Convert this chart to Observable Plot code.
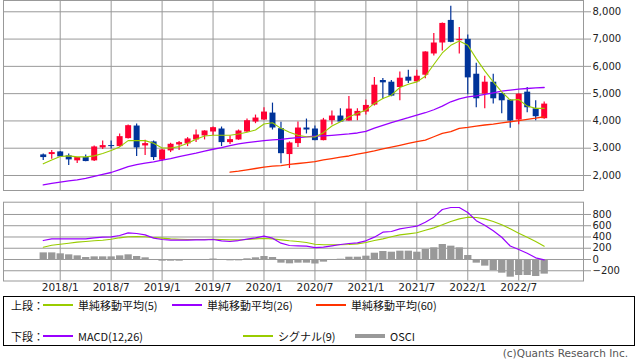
<!DOCTYPE html>
<html>
<head>
<meta charset="utf-8">
<script src="https://cdn.jsdelivr.net/npm/d3@7"></script>
<script src="https://cdn.jsdelivr.net/npm/@observablehq/plot@0.6"></script>
<style>
  body { margin: 0; background: #fff; }
  #wrap { position: relative; width: 638px; height: 362px; overflow: hidden; background: #fff; font-family: "DejaVu Sans", sans-serif; }
  #upper, #lower { position: absolute; left: 0; }
  #upper { top: 0; }
  #lower { top: 191px; }
  #legend { position: absolute; left: 3px; top: 296px; width: 632px; height: 50px; box-sizing: border-box; border: 1px solid #000; }
  .lg { position: absolute; font-family: "Noto Sans CJK JP", sans-serif; font-size: 11px; line-height: 14px; color: #111; white-space: nowrap; }
  .sw { position: absolute; }
  #footer { position: absolute; right: 10px; top: 347px; font-family: "DejaVu Sans", sans-serif; font-size: 10.5px; color: #555; white-space: nowrap; }
  g[aria-label="y-axis tick label"], g[aria-label="x-axis tick label"] { fill: #222; }
</style>
</head>
<body>
<div id="wrap">
  <div id="upper"></div>
  <div id="lower"></div>
  <div id="legend"></div>
  <div id="footer"></div>
</div>
<script>
// ---------- data ----------
const months = [
  "2017/11","2017/12",
  "2018/1","2018/2","2018/3","2018/4","2018/5","2018/6","2018/7","2018/8","2018/9","2018/10","2018/11","2018/12",
  "2019/1","2019/2","2019/3","2019/4","2019/5","2019/6","2019/7","2019/8","2019/9","2019/10","2019/11","2019/12",
  "2020/1","2020/2","2020/3","2020/4","2020/5","2020/6","2020/7","2020/8","2020/9","2020/10","2020/11","2020/12",
  "2021/1","2021/2","2021/3","2021/4","2021/5","2021/6","2021/7","2021/8","2021/9","2021/10","2021/11","2021/12",
  "2022/1","2022/2","2022/3","2022/4","2022/5","2022/6","2022/7","2022/8","2022/9","2022/10"
];
const open = [2755,2767,2864,2718,2536,2657,2536,3010,3096,3059,3351,3813,3083,3230,
  2560,2901,3120,3157,3303,3449,3594,3704,3205,3303,3594,3960,
  4033,4288,3715,2767,3169,3740,3704,3278,4008,4179,3996,4179,
  4325,4580,5481,5420,5225,5603,5432,5676,6454,6856,7684,6941,
  6990,5712,4982,5420,5006,4763,4033,5055,4446,4081];
const high = [2791,2913,2880,2791,2660,2755,3083,3266,3266,3522,3850,3887,3290,3266,
  2962,3181,3242,3388,3668,3640,3777,3777,3449,3668,4069,4215,
  4483,4653,3955,3230,3960,4069,3813,4094,4361,4446,4897,4446,
  4763,5590,5554,5481,5797,5858,5858,6540,7209,7590,8207,7428,
  7148,6114,5639,5712,5015,4775,4995,5225,4738,4690];
const low = [2548,2597,2670,2365,2438,2505,2511,2949,2974,3035,3339,2694,2730,2548,
  2511,2840,2913,3059,3205,3303,3449,3059,3132,3290,3580,3899,
  4020,3667,2426,2256,3023,3522,3270,3270,3850,3950,3990,4008,
  4215,4544,4787,4885,4738,5371,5396,5542,6381,6564,6870,6454,
  4957,4483,4446,4617,4264,3728,3862,4300,4008,4057];
const close = [2657,2840,2682,2572,2657,2511,3047,3096,3059,3424,3826,3010,3169,2657,
  2937,3144,3205,3339,3485,3631,3753,3205,3315,3631,4008,4106,
  4325,3740,2800,3193,3740,3667,3278,4033,4179,3960,4434,4349,
  4568,5310,5396,4909,5566,5457,5639,6527,6856,7574,6880,6990,
  5578,4811,5420,4811,4738,3996,4982,4483,4154,4617];

const sma5 = [2426,2572,2694,2718,2682,2682,2718,2803,2913,3047,3278,3278,3278,3181,
  3010,3010,3059,3181,3327,3449,3473,3473,3473,3522,3582,3667,
  3887,3935,3728,3582,3473,3420,3410,3570,3814,3972,4154,4276,
  4398,4641,4824,4945,5225,5347,5432,5639,6070,6491,6771,6929,
  6771,6284,5834,5432,5067,4763,4787,4544,4459,4459];
const sma26 = [1659,1708,1757,1806,1842,1891,1964,2037,2110,2219,2329,2402,2451,2499,
  2560,2621,2694,2755,2816,2889,2962,3023,3096,3157,3205,3242,
  3278,3303,3327,3364,3388,3412,3440,3455,3473,3497,3522,3558,
  3619,3740,3838,3935,4033,4118,4215,4300,4410,4544,4702,4812,
  4885,4921,4970,5030,5091,5128,5164,5188,5213,5225];
const sma60 = [null,null,null,null,null,null,null,null,null,null,null,null,null,null,
  null,null,null,null,null,null,null,null,2122,2158,2207,2256,
  2305,2341,2365,2410,2440,2475,2505,2570,2620,2670,2715,2780,
  2840,2900,2974,3040,3108,3175,3240,3300,3420,3547,3610,3730,
  3760,3813,3850,3886,3930,3970,4010,4058,4100,4153];

const macd = [337,367,367,367,367,367,385,397,403,426,473,462,438,379,
  355,343,343,343,349,349,355,332,320,337,361,385,
  414,379,290,249,243,237,210,219,243,266,284,296,
  332,397,486,497,545,568,592,663,752,888,924,924,
  835,690,610,510,395,240,178,112,30,-8];
const signal = [219,254,272,290,308,320,332,343,361,385,403,408,403,391,
  379,367,361,355,355,355,360,355,349,349,355,367,
  373,367,349,332,320,302,272,261,261,261,266,278,
  302,337,367,403,438,456,474,521,562,616,675,722,
  752,746,722,675,616,545,468,397,320,237];
const osci = [118,118,101,83,65,36,47,47,47,65,83,53,30,-18,
  -30,-30,-30,-18,0,0,8,-12,-24,-24,12,30,
  53,36,-65,-77,-65,-65,-80,-47,-12,5,41,41,
  59,112,142,130,148,148,130,178,207,266,237,207,
  71,-65,-118,-195,-243,-314,-284,-284,-302,-260];

const xTickLabels = ["2018/1","2018/7","2019/1","2019/7","2020/1","2020/7","2021/1","2021/7","2022/1","2022/7"];
const upperTicks = [2000,3000,4000,5000,6000,7000,8000];
const lowerTicks = [-200,0,200,400,600,800];

const upperLegend = [
  {label: "単純移動平均(5)", color: "#99cc00"},
  {label: "単純移動平均(26)", color: "#9900ff"},
  {label: "単純移動平均(60)", color: "#ff3300"}
];
const lowerLegend = [
  {label: "MACD(12,26)", color: "#9900ff"},
  {label: "シグナル(9)", color: "#99cc00"},
  {label: "OSCI", color: "#999999"}
];

// ---------- build ----------
const UP = "#ff0033", DOWN = "#003399", GRID = "#999999";
const idx = months.map((m, i) => i);
const candles = idx.map(i => ({i, o: open[i], h: high[i], l: low[i], c: close[i], col: close[i] >= open[i] ? UP : DOWN}));
const tickIdx = xTickLabels.map(l => months.indexOf(l));
const xDomain = [-4.68, 63.63];

const upper = Plot.plot({
  width: 638, height: 191,
  marginTop: 0, marginBottom: 1, marginLeft: 3, marginRight: 55,
  x: {type: "linear", domain: xDomain, axis: null},
  y: {domain: [1450, 8414], axis: null},
  style: {background: "transparent", overflow: "visible"},
  marks: [
    Plot.ruleX(tickIdx, {stroke: GRID}),
    Plot.ruleY(upperTicks, {stroke: GRID}),
    Plot.axisY(upperTicks, {anchor: "right", tickSize: 7, tickPadding: 2, stroke: GRID, tickFormat: d3.format(","), fontSize: 10, fontFamily: "DejaVu Sans"}),
    Plot.frame({stroke: GRID}),
    Plot.ruleX(candles, {x: "i", y1: "l", y2: "h", stroke: "col", strokeWidth: 1.2}),
    Plot.ruleX(candles, {x: "i", y1: "o", y2: "c", stroke: "col", strokeWidth: 6}),
    Plot.line(idx, {x: i => i, y: i => sma60[i], stroke: "#ff3300", strokeWidth: 1.3}),
    Plot.line(idx, {x: i => i, y: i => sma26[i], stroke: "#9900ff", strokeWidth: 1.3}),
    Plot.line(idx, {x: i => i, y: i => sma5[i], stroke: "#99cc00", strokeWidth: 1.1})
  ]
});
document.getElementById("upper").append(upper);

const lower = Plot.plot({
  width: 638, height: 105,
  marginTop: 10.7, marginBottom: 15.5, marginLeft: 3, marginRight: 55,
  x: {type: "linear", domain: xDomain, axis: null},
  y: {domain: [-382, 1018], axis: null},
  style: {background: "transparent", overflow: "visible"},
  marks: [
    Plot.ruleX(tickIdx, {stroke: GRID}),
    Plot.ruleY(lowerTicks, {stroke: GRID}),
    Plot.axisY(lowerTicks, {anchor: "right", tickSize: 7, tickPadding: 2, stroke: GRID, fontSize: 10, fontFamily: "DejaVu Sans"}),
    Plot.axisX(tickIdx, {anchor: "bottom", tickSize: 0, tickPadding: 3, tickFormat: i => months[i], fontSize: 10.5, fontFamily: "DejaVu Sans"}),
    Plot.frame({stroke: GRID}),
    Plot.ruleX(idx, {x: i => i, y1: 0, y2: i => osci[i], stroke: "#999999", strokeWidth: 7.3}),
    Plot.line(idx, {x: i => i, y: i => signal[i], stroke: "#99cc00", strokeWidth: 1.1}),
    Plot.line(idx, {x: i => i, y: i => macd[i], stroke: "#9900ff", strokeWidth: 1.2})
  ]
});
document.getElementById("lower").append(lower);

// ---------- legend ----------
const wrap = document.getElementById("wrap");
function addText(txt, x, cy) {
  const d = document.createElement("div");
  d.className = "lg"; d.textContent = txt;
  d.style.left = x + "px"; d.style.top = (cy - 7) + "px";
  wrap.append(d);
}
function addSwatch(color, x, cy, w, h) {
  const d = document.createElement("div");
  d.className = "sw";
  d.style.left = x + "px"; d.style.top = (cy - h / 2) + "px";
  d.style.width = w + "px"; d.style.height = h + "px";
  d.style.background = color;
  wrap.append(d);
}
const row1 = 305, row2 = 336;
addText("上段：", 11, row1);
const upX = [43, 172, 316];
upperLegend.forEach((it, k) => { addSwatch(it.color, upX[k], row1, 30, 1.5); addText(it.label, upX[k] + 35, row1); });
addText("下段：", 11, row2);
const loX = [43, 243, 355];
lowerLegend.forEach((it, k) => {
  const h = it.label === "OSCI" ? 4 : 1.5;
  addSwatch(it.color, loX[k], row2, 30, h);
  addText(it.label, loX[k] + 35, row2);
});
document.getElementById("footer").textContent = "(c)Quants Research Inc.";
</script>
</body>
</html>
